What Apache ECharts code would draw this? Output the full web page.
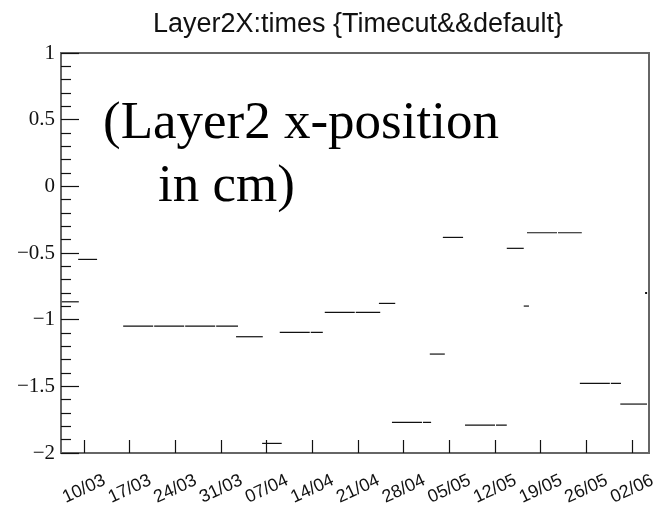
<!DOCTYPE html>
<html>
<head>
<meta charset="utf-8">
<script src="https://cdn.jsdelivr.net/npm/echarts@6/dist/echarts.min.js"></script>
<style>
  html, body { margin: 0; padding: 0; background: #fff; }
  #chart { width: 664px; height: 509px; }
</style>
</head>
<body>
<div id="chart"></div>
<script>
// Weekly date ticks; x is measured in days from the first tick (10/03).
const tickLabels = ['10/03', '17/03', '24/03', '31/03', '07/04', '14/04', '21/04',
                    '28/04', '05/05', '12/05', '19/05', '26/05', '02/06'];
const tickDays = tickLabels.map((_, i) => i * 7);

// Runs of constant Layer2 x-position: start day, end day, position (cm)
const runStart = [-3.4, -0.9, 6.0, 23.3, 27.3, 30.0, 36.9, 45.2, 47.2, 53.0, 55.0, 58.4, 64.8, 67.4, 67.9, 76.0, 82.2, 86.0];
const runEnd   = [-0.8,  2.0, 23.6, 27.4, 30.3, 36.6, 45.4, 47.7, 53.2, 55.3, 58.1, 64.8, 67.4, 68.2, 76.3, 82.3, 86.3, 86.3];
const runValue = [-0.866, -0.548, -1.048, -1.128, -1.928, -1.096, -0.945, -0.878, -1.770, -1.258, -0.383, -1.791, -0.465, -0.898, -0.348, -1.478, -1.633, -0.80];

const runs = runStart.map((s, i) => [s, runEnd[i], runValue[i]]);

const fmtY = v => (v < 0 ? '\u2212' + Math.abs(v) : String(v));

const chart = echarts.init(document.getElementById('chart'), null, { renderer: 'canvas' });

chart.setOption({
  animation: false,
  backgroundColor: '#fff',
  title: {
    text: 'Layer2X:times {Timecut&&default}',
    left: 353,
    top: 6,
    textAlign: 'center',
    textStyle: { fontFamily: 'Liberation Sans', fontSize: 27, fontWeight: 'normal', color: '#111' }
  },
  grid: {
    left: 61, right: 15, top: 53, bottom: 56,
    show: true, borderColor: '#666', borderWidth: 2,
    outerBoundsMode: 'none'
  },
  xAxis: {
    type: 'value',
    min: -3.53,
    max: 86.6,
    axisLine: { show: true, onZero: false, lineStyle: { color: '#666', width: 2 } },
    axisTick: { show: true, inside: true, length: 13, customValues: tickDays, lineStyle: { color: '#111', width: 1.2 } },
    splitLine: { show: false },
    axisLabel: {
      customValues: tickDays,
      formatter: v => tickLabels[Math.round(v / 7)],
      rotate: 25,
      align: 'center',
      verticalAlign: 'middle',
      margin: 36,
      fontFamily: 'Liberation Sans',
      fontSize: 18,
      color: '#111',
      hideOverlap: false
    }
  },
  yAxis: {
    type: 'value',
    min: -2,
    max: 1,
    interval: 0.5,
    axisLine: { show: true, onZero: false, lineStyle: { color: '#666', width: 2 } },
    axisTick: { show: true, inside: true, length: 18, lineStyle: { color: '#111', width: 1.2 } },
    minorTick: { show: true, splitNumber: 5, length: 10, lineStyle: { color: '#111', width: 1.2 } },
    splitLine: { show: false },
    axisLabel: {
      formatter: fmtY,
      margin: 6,
      fontFamily: 'Liberation Serif',
      fontSize: 21,
      color: '#111',
      showMinLabel: true,
      showMaxLabel: true
    }
  },
  graphic: [
    {
      type: 'text', left: 103, top: 98, silent: true,
      style: { text: '(Layer2 x-position', font: '53px "Liberation Serif"', fill: '#000' }
    },
    {
      type: 'text', left: 158, top: 161, silent: true,
      style: { text: 'in cm)', font: '53px "Liberation Serif"', fill: '#000' }
    }
  ],
  series: [{
    type: 'custom',
    data: runs,
    encode: { x: [0, 1], y: 2 },
    clip: true,
    renderItem: (params, api) => {
      const a = api.coord([api.value(0), api.value(2)]);
      const b = api.coord([api.value(1), api.value(2)]);
      if (b[0] - a[0] < 3) {
        return { type: 'rect', shape: { x: a[0], y: a[1] - 1, width: 2, height: 2 }, style: { fill: '#111' } };
      }
      return {
        type: 'line',
        shape: { x1: a[0], y1: a[1], x2: b[0], y2: b[1] },
        style: { stroke: '#111', lineWidth: 1.2, lineDash: [30, 1] }
      };
    }
  }]
});
</script>
</body>
</html>
